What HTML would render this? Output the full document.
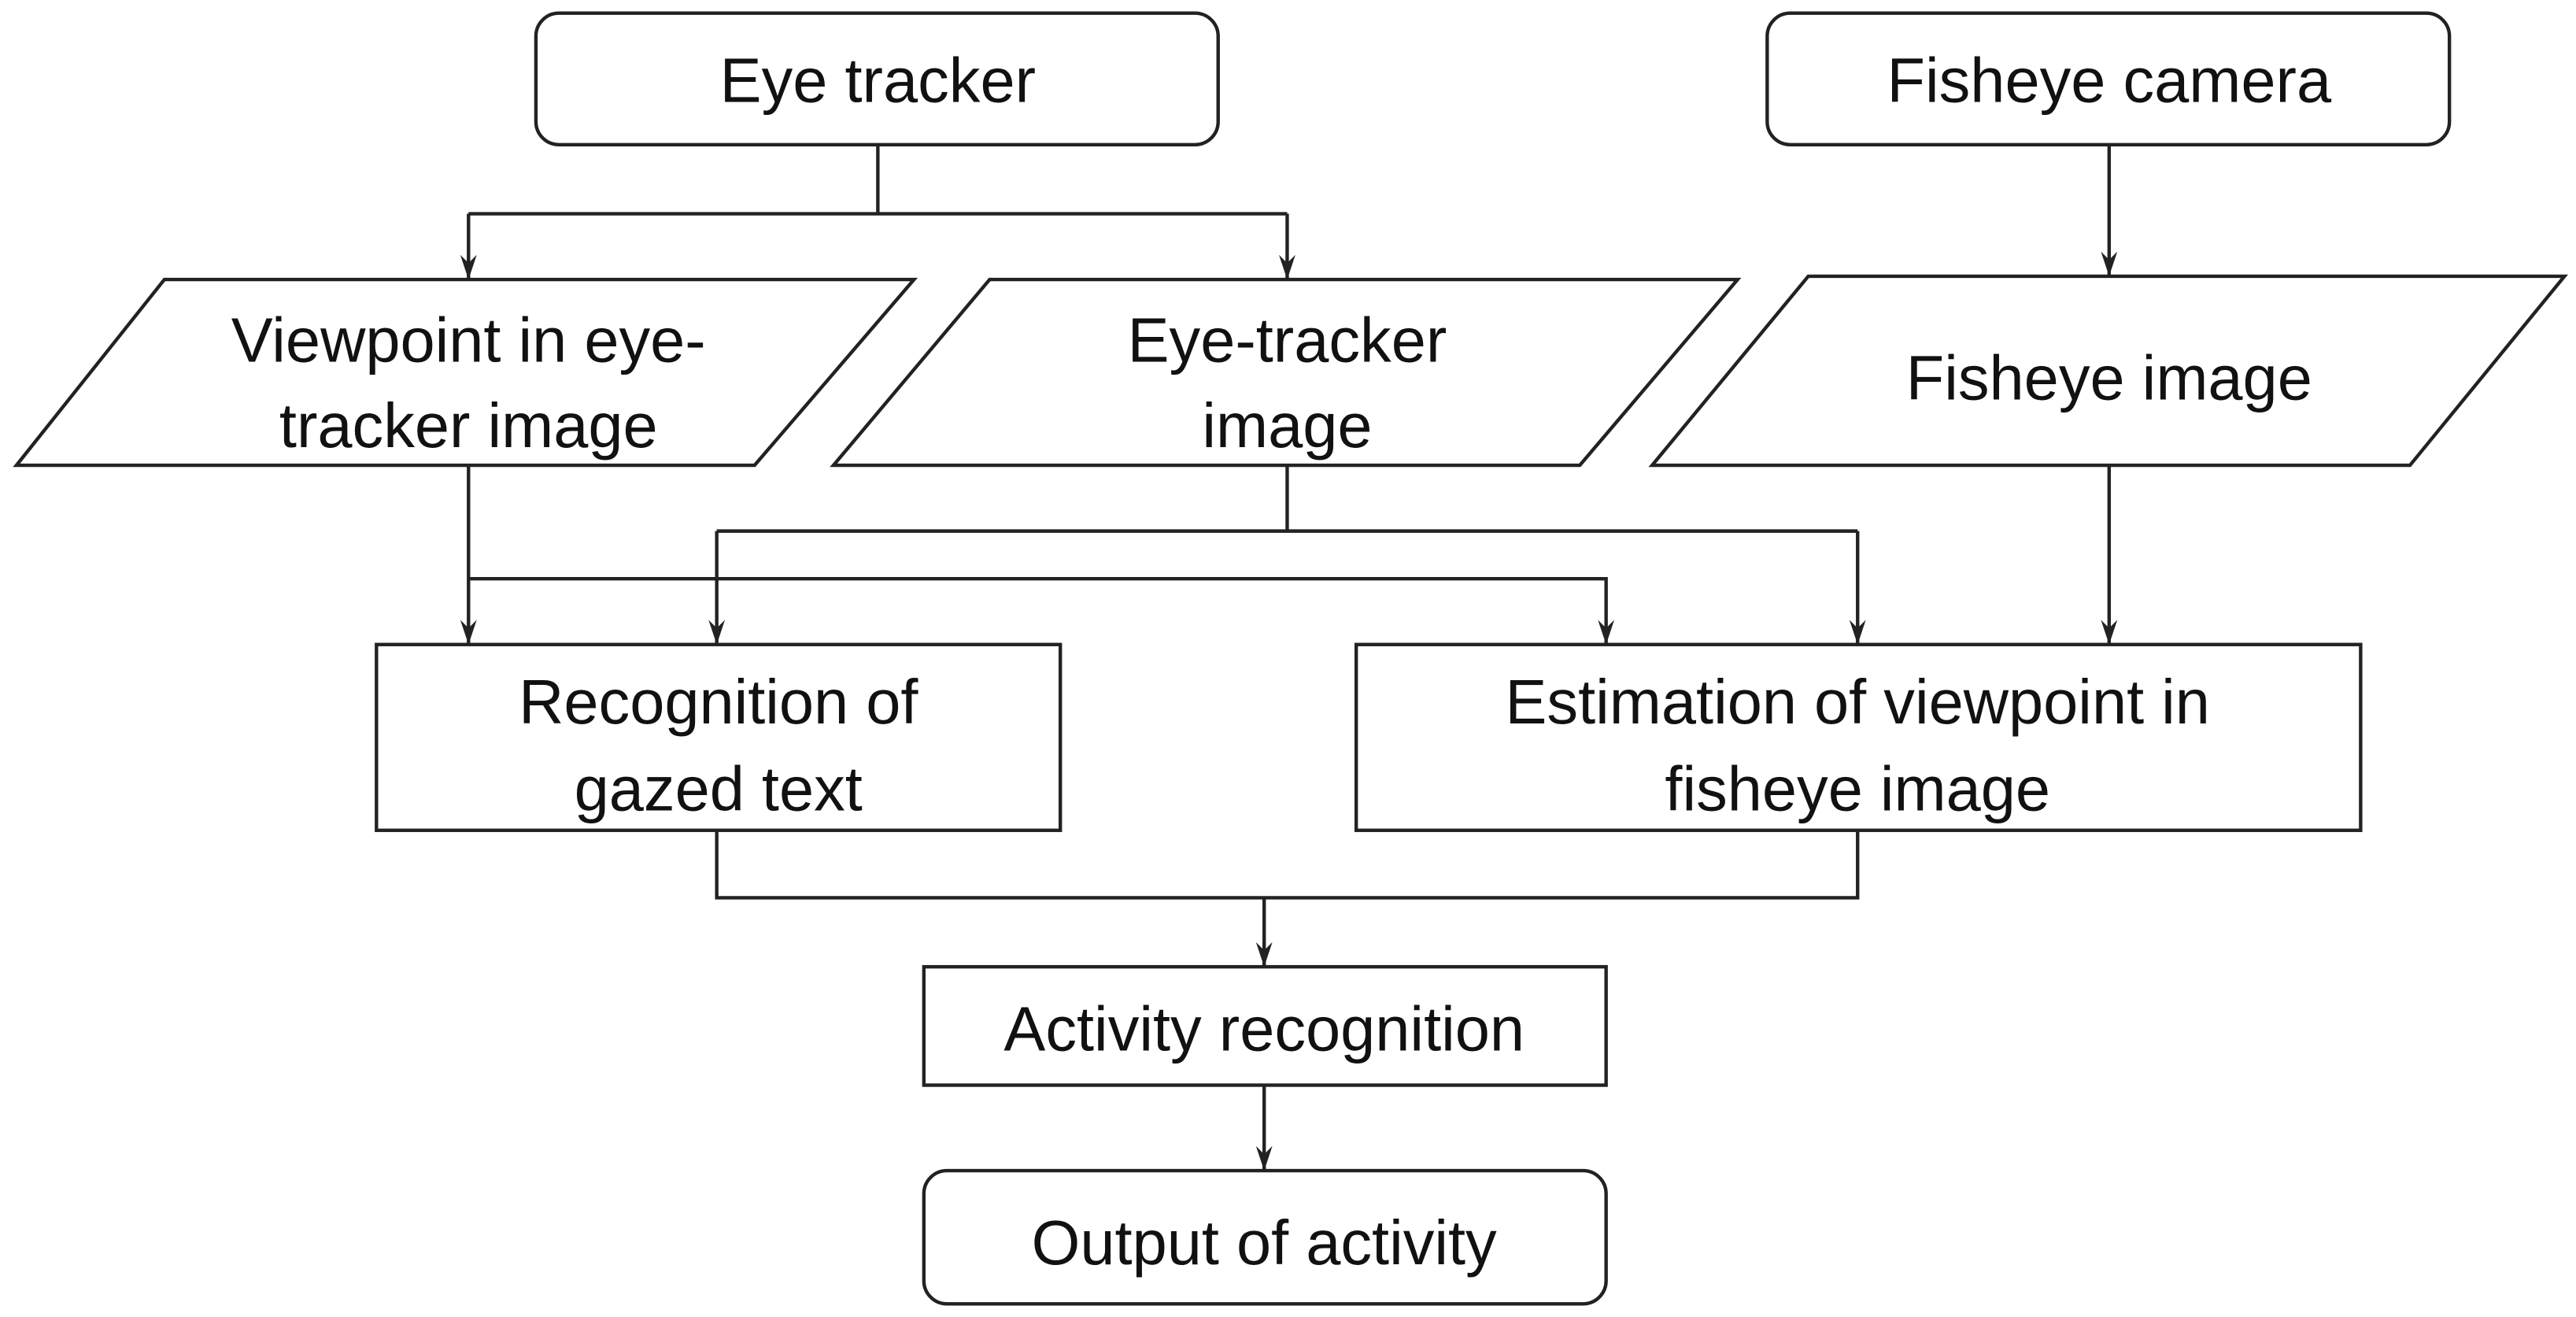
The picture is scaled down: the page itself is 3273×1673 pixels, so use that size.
<!DOCTYPE html>
<html><head><meta charset="utf-8"><style>
html,body{margin:0;padding:0;background:#fff;}
svg{display:block;}
text{font-family:"Liberation Sans",sans-serif;font-size:38px;fill:#111;text-anchor:middle;}
</style></head><body>
<svg width="3273" height="1673" viewBox="0 0 1567 801" preserveAspectRatio="none" xmlns="http://www.w3.org/2000/svg">
<defs>
<marker id="a" markerWidth="12" markerHeight="16" refX="6" refY="15" orient="0" markerUnits="userSpaceOnUse">
<path d="M1,0 L6,15 L11,0 L6,5 Z" fill="#222"/>
</marker>
</defs>
<g fill="none" stroke="#222" stroke-width="2.1">
<rect x="326" y="8" width="415" height="80" rx="14"/>
<rect x="1075" y="8" width="415" height="80" rx="14"/>
<polygon points="100,170 556,170 459,283 10,283"/>
<polygon points="602,170 1057,170 961,283 507,283"/>
<polygon points="1100,168 1560,168 1466,283 1005,283"/>
<rect x="229" y="392" width="416" height="113"/>
<rect x="825" y="392" width="611" height="113"/>
<rect x="562" y="588" width="415" height="72"/>
<rect x="562" y="712" width="415" height="81" rx="14"/>
<path d="M534,88 V130 M285,130 H783"/>
<path d="M285,130 V170" marker-end="url(#a)"/>
<path d="M783,130 V170" marker-end="url(#a)"/>
<path d="M1283,88 V168" marker-end="url(#a)"/>
<path d="M285,283 V392" marker-end="url(#a)"/>
<path d="M285,352 H977 V392" marker-end="url(#a)"/>
<path d="M783,283 V323 M436,323 H1130"/>
<path d="M436,323 V392" marker-end="url(#a)"/>
<path d="M1130,323 V392" marker-end="url(#a)"/>
<path d="M1283,283 V392" marker-end="url(#a)"/>
<path d="M436,505 V546 H1130 V505"/>
<path d="M769,546 V588" marker-end="url(#a)"/>
<path d="M769,660 V712" marker-end="url(#a)"/>
</g>
<text x="534" y="62">Eye tracker</text>
<text x="1283" y="62">Fisheye camera</text>
<text x="285" y="220">Viewpoint in eye-</text>
<text x="285" y="272">tracker image</text>
<text x="783" y="220">Eye-tracker</text>
<text x="783" y="272">image</text>
<text x="1283" y="243">Fisheye image</text>
<text x="437" y="440">Recognition of</text>
<text x="437" y="493">gazed text</text>
<text x="1130" y="440">Estimation of viewpoint in</text>
<text x="1130" y="493">fisheye image</text>
<text x="769" y="639">Activity recognition</text>
<text x="769" y="769">Output of activity</text>
</svg>
</body></html>
